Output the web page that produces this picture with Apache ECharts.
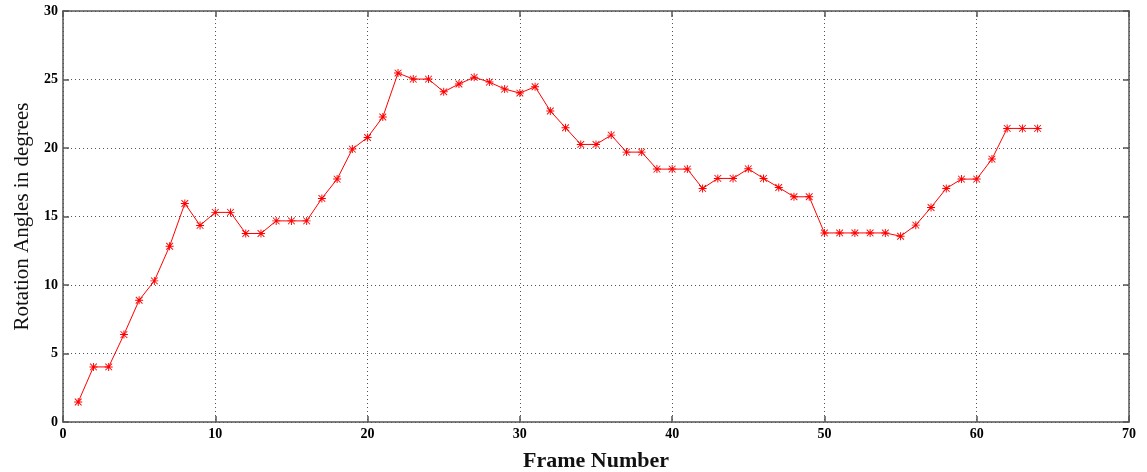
<!DOCTYPE html>
<html>
<head>
<meta charset="utf-8">
<script src="https://cdn.jsdelivr.net/npm/echarts@6/dist/echarts.min.js"></script>
<style>
html,body{margin:0;padding:0;background:#fff;}
#chart{width:1147px;height:472px;}
</style>
</head>
<body>
<div id="chart"></div>
<script>
// Data
var frames = [1,2,3,4,5,6,7,8,9,10,11,12,13,14,15,16,17,18,19,20,21,22,23,24,25,26,27,28,29,30,31,32,33,34,35,36,37,38,39,40,41,42,43,44,45,46,47,48,49,50,51,52,53,54,55,56,57,58,59,60,61,62,63,64];
var angles = [1.46,4.02,4.02,6.38,8.89,10.3,12.83,15.95,14.35,15.3,15.3,13.76,13.76,14.68,14.68,14.68,16.32,17.73,19.92,
  20.77,22.26,25.47,25.03,25.03,24.1,24.67,25.16,24.81,24.3,24.01,24.47,22.7,21.48,20.26,20.26,20.94,19.7,
  19.7,18.46,18.46,18.46,17.05,17.78,17.78,18.48,17.78,17.12,16.44,16.44,13.8,13.8,13.8,13.8,13.8,13.56,14.37,
  15.66,17.05,17.73,17.73,19.19,21.43,21.43,21.43];
var xTicks = {min:0, max:70, interval:10};
var yTicks = {min:0, max:30, interval:5};
var xTitle = 'Frame Number';
var yTitle = 'Rotation Angles in degrees';

var points = frames.map(function(f,i){return [f, angles[i]];});
var asterisk = 'path://M4.4 0H5.6V10H4.4Z M0 4.4H10V5.6H0Z M1.2 0.4L9.6 8.8L8.8 9.6L0.4 1.2Z M8.8 0.4L9.6 1.2L1.2 9.6L0.4 8.8Z';
var serif = '"Liberation Serif","DejaVu Serif",serif';
var frameCol = '#555';
var gridLine = {show:true, lineStyle:{color:'#555', type:[1,3], width:1}};
var tickIn = {show:true, inside:true, length:6, lineStyle:{color:frameCol, width:1.5}};
var labelStyle = {color:'#000', fontFamily:serif, fontWeight:'bold', fontSize:14};

var chart = echarts.init(document.getElementById('chart'), null, {renderer:'canvas'});
chart.setOption({
  backgroundColor:'#fff',
  animation:false,
  grid:{left:63, right:18, top:11, bottom:50, containLabel:false, outerBoundsMode:'none'},
  xAxis:[{
    type:'value', min:xTicks.min, max:xTicks.max, interval:xTicks.interval,
    position:'bottom',
    name:xTitle, nameLocation:'middle', nameGap:28,
    nameTextStyle:{fontFamily:serif, fontWeight:'bold', fontSize:22, color:'#111'},
    axisLine:{show:true, onZero:false, lineStyle:{color:frameCol, width:1.5}},
    axisTick:tickIn,
    axisLabel:Object.assign({margin:5}, labelStyle),
    splitLine:gridLine
  },{
    type:'value', min:xTicks.min, max:xTicks.max, interval:xTicks.interval,
    position:'top',
    axisLine:{show:true, onZero:false, lineStyle:{color:frameCol, width:1.5}},
    axisTick:tickIn, axisLabel:{show:false}, splitLine:{show:false}
  }],
  yAxis:[{
    type:'value', min:yTicks.min, max:yTicks.max, interval:yTicks.interval,
    position:'left',
    name:yTitle, nameLocation:'middle', nameGap:30, nameRotate:90,
    nameTextStyle:{fontFamily:serif, fontSize:21, color:'#111'},
    axisLine:{show:true, onZero:false, lineStyle:{color:frameCol, width:1.5}},
    axisTick:tickIn,
    axisLabel:Object.assign({margin:5}, labelStyle),
    splitLine:gridLine
  },{
    type:'value', min:yTicks.min, max:yTicks.max, interval:yTicks.interval,
    position:'right',
    axisLine:{show:true, onZero:false, lineStyle:{color:frameCol, width:1.5}},
    axisTick:tickIn, axisLabel:{show:false}, splitLine:{show:false}
  }],
  series:[{
    type:'line',
    data:points,
    xAxisIndex:0, yAxisIndex:0,
    symbol:asterisk, symbolSize:8,
    itemStyle:{color:'#ff0000'},
    lineStyle:{color:'#ff0000', width:1},
    showSymbol:true
  }]
});
</script>
</body>
</html>
